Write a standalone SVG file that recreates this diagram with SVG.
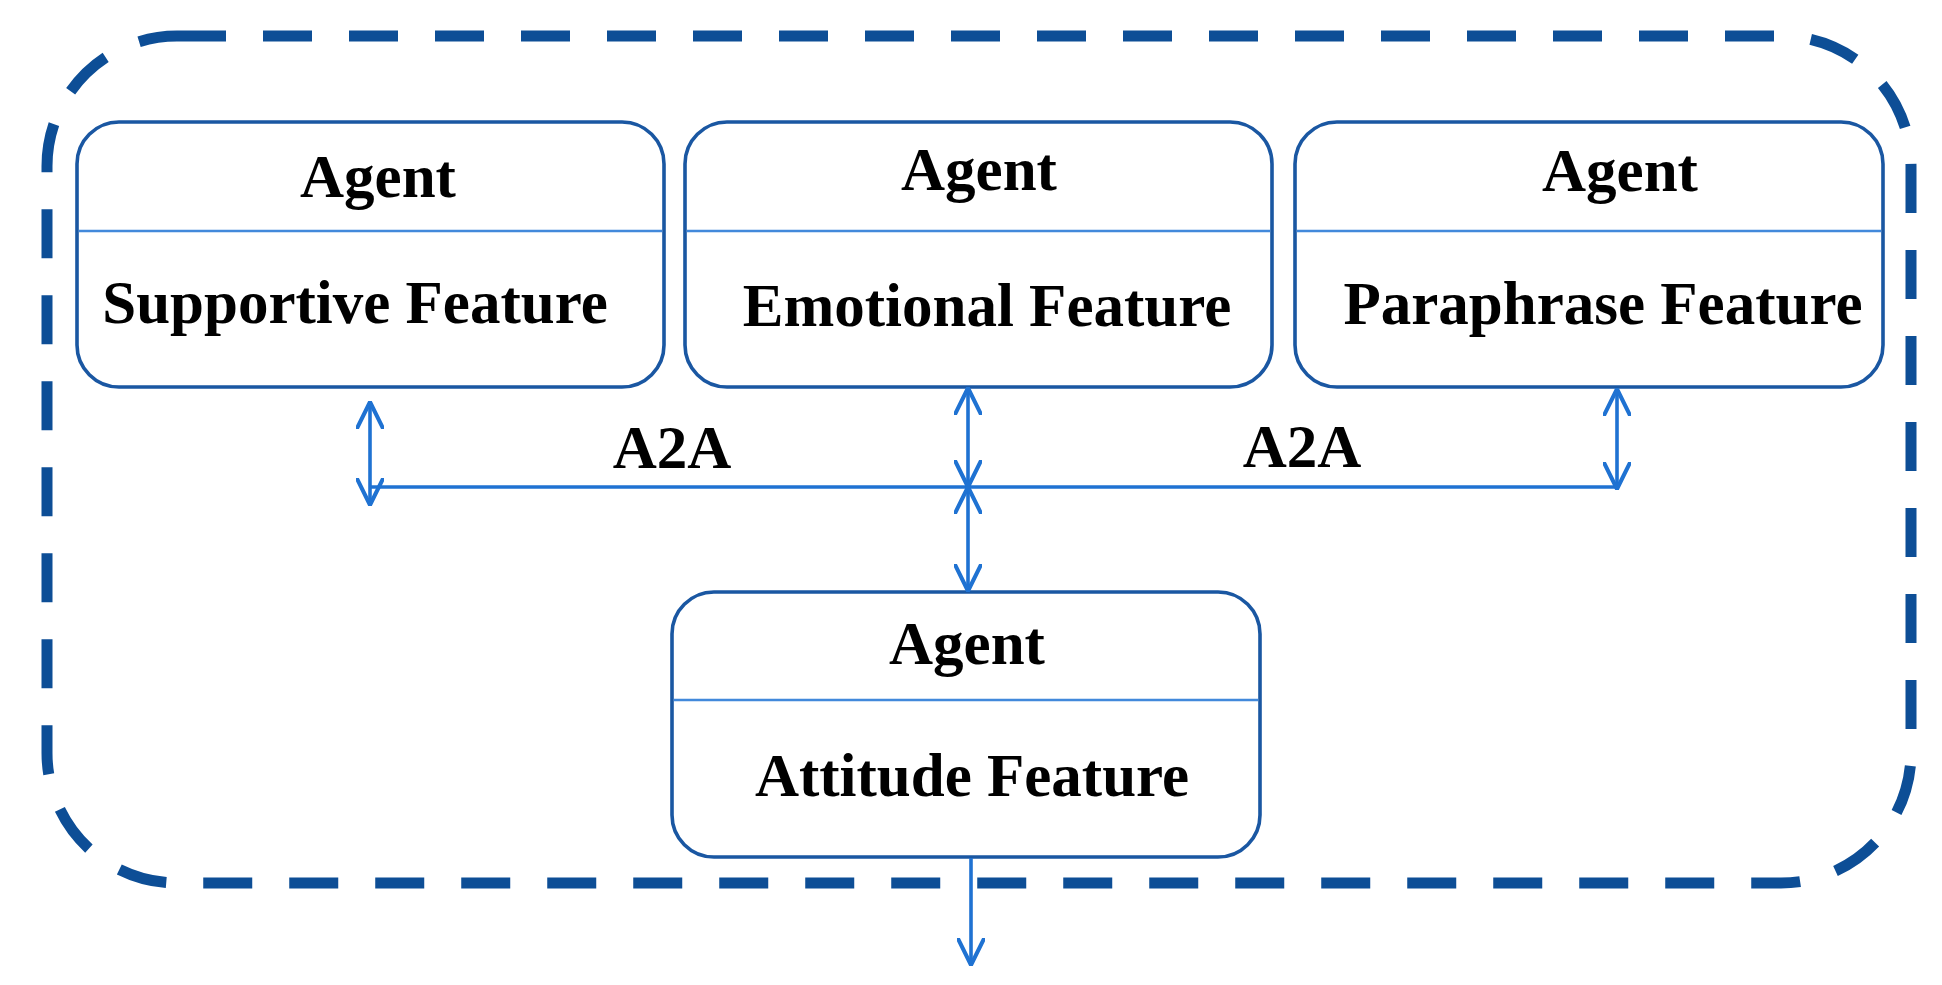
<svg xmlns="http://www.w3.org/2000/svg" width="1942" height="985" viewBox="0 0 1942 985">
  <style>
    .outer { fill: none; stroke: #0d4e96; stroke-width: 11; stroke-dasharray: 49 37; }
    .box { fill: #ffffff; stroke: #1a57a2; stroke-width: 3.6; }
    .div { stroke: #4289db; stroke-width: 2.5; }
    .lbl { font-family: "Liberation Serif", "Times New Roman", serif; font-weight: bold; font-size: 61px; fill: #000000; text-anchor: middle; }
    .conn { fill: none; stroke: #1f72d2; stroke-width: 3.6; }
  </style>
  <defs>
    <marker id="arr" viewBox="0 0 10 10" refX="9.6" refY="5" markerUnits="userSpaceOnUse" markerWidth="28" markerHeight="28" orient="auto-start-reverse">
      <path d="M0.3,0.4 L9.6,5 L0.3,9.6" fill="none" stroke="#1f72d2" stroke-width="1.45" stroke-linecap="round" stroke-linejoin="round"/>
    </marker>
  </defs>
  <rect width="1942" height="985" fill="#ffffff"/>
  <rect id="container" class="outer" x="47" y="36" width="1864" height="847" rx="130" ry="130"/>

  <g id="agent-supportive">
    <rect class="box" x="77" y="122" width="587" height="265" rx="42" ry="42"/>
    <line class="div" x1="78.8" y1="231" x2="662.2" y2="231"/>
    <text class="lbl" x="378" y="197">Agent</text>
    <text class="lbl" x="355" y="323">Supportive Feature</text>
  </g>
  <g id="agent-emotional">
    <rect class="box" x="685" y="122" width="587" height="265" rx="42" ry="42"/>
    <line class="div" x1="686.8" y1="231" x2="1270.2" y2="231"/>
    <text class="lbl" x="979" y="190">Agent</text>
    <text class="lbl" x="987" y="326">Emotional Feature</text>
  </g>
  <g id="agent-paraphrase">
    <rect class="box" x="1295" y="122" width="588" height="265" rx="42" ry="42"/>
    <line class="div" x1="1296.8" y1="231" x2="1881.2" y2="231"/>
    <text class="lbl" x="1620" y="191">Agent</text>
    <text class="lbl" x="1603" y="324">Paraphrase Feature</text>
  </g>
  <g id="agent-attitude">
    <rect class="box" x="672" y="592" width="588" height="265" rx="42" ry="42"/>
    <line class="div" x1="673.8" y1="700" x2="1258.2" y2="700"/>
    <text class="lbl" x="967" y="664">Agent</text>
    <text class="lbl" x="972" y="796">Attitude Feature</text>
  </g>

  <g id="connectors">
    <line class="conn" x1="370" y1="487" x2="1617" y2="487"/>
    <line class="conn" x1="370" y1="402" x2="370" y2="505" marker-start="url(#arr)" marker-end="url(#arr)"/>
    <line class="conn" x1="968" y1="388" x2="968" y2="487" marker-start="url(#arr)" marker-end="url(#arr)"/>
    <line class="conn" x1="968" y1="487" x2="968" y2="591" marker-start="url(#arr)" marker-end="url(#arr)"/>
    <line class="conn" x1="1617" y1="389" x2="1617" y2="489" marker-start="url(#arr)" marker-end="url(#arr)"/>
    <line class="conn" x1="971" y1="858" x2="971" y2="965" marker-end="url(#arr)"/>
    <text class="lbl" x="672" y="468">A2A</text>
    <text class="lbl" x="1302" y="467">A2A</text>
  </g>
</svg>
